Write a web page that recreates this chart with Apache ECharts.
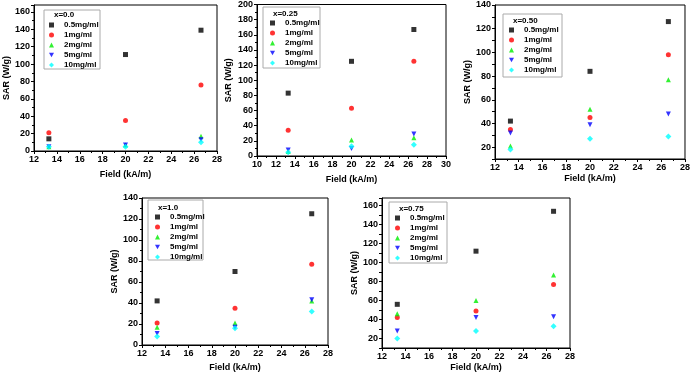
<!DOCTYPE html>
<html>
<head>
<meta charset="utf-8">
<script src="https://cdn.jsdelivr.net/npm/echarts@6/dist/echarts.min.js"></script>
<style>
  html, body { margin: 0; padding: 0; background: #fff; }
  #chart { width: 693px; height: 376px; }
</style>
</head>
<body>
<div id="chart"></div>
<script>
// field strengths (kA/m) used in every panel
const fieldKAm = [13.3, 20, 26.6];
const concNames = ["0.5mg/ml", "1mg/ml", "2mg/ml", "5mg/ml", "10mg/ml"];
const panelTitles = ["x=0.0", "x=0.25", "x=0.50", "x=1.0", "x=0.75"];

// SAR (W/g), one row per concentration, one value per field
const sarX000 = [[14, 111, 139], [21, 35, 76], [5, 7, 17], [5, 7, 13], [5, 5, 10]];
const sarX025 = [[83, 125, 167], [34, 63, 125], [6, 21, 24], [8, 10, 29], [5, 13, 15]];
const sarX050 = [[42, 84, 126], [35, 45, 98], [21, 52, 77], [32, 39, 48], [18, 27, 29]];
const sarX100 = [[42, 70, 125], [21, 35, 77], [17, 21, 42], [11, 17, 43], [8, 16, 32]];
const sarX075 = [[56, 112, 154], [42, 49, 77], [46, 60, 87], [28, 42, 43], [20, 28, 33]];

const colors = ["#000000", "#ff0000", "#00ee00", "#0000ff", "#00ffff"];
const symbols = ["rect", "circle", "triangle", "path://M0,0 L10,0 L5,9 Z", "diamond"];
const sizes = [5, 5, 5, 5, 6];

const font = "Liberation Sans";

// layout of the five panels
const panels = [
  { data: sarX000, grid: { left: 34, top: 5, width: 183, height: 146 }, x: [12, 28], y: [0, 168, 20], xGap: 19, yGap: 18,
    leg: { left: 49, top: 20 }, box: [44, 10, 56, 59], title: [54, 15] },
  { data: sarX025, grid: { left: 257, top: 4, width: 189, height: 152 }, x: [10, 30], y: [0, 200, 20], xGap: 19, yGap: 24,
    leg: { left: 270, top: 18 }, box: [263, 7, 57, 61], title: [273, 14] },
  { data: sarX050, grid: { left: 495, top: 5, width: 193, height: 154 }, x: [12, 28], y: [10, 140, 10], xGap: 15, yGap: 21,
    leg: { left: 509, top: 25 }, box: [503, 14, 59, 63], title: [513, 21] },
  { data: sarX100, grid: { left: 142, top: 198, width: 186, height: 147 }, x: [12, 28], y: [0, 140, 20], xGap: 18, yGap: 22,
    leg: { left: 155, top: 212 }, box: [148, 200, 55, 60], title: [158, 208] },
  { data: sarX075, grid: { left: 382, top: 198, width: 188, height: 150 }, x: [12, 28], y: [10, 168, 10], xGap: 15, yGap: 22,
    leg: { left: 395, top: 213 }, box: [389, 202, 58, 61], title: [399, 209] }
];

const labelStyle = { fontSize: 9, fontWeight: "bold", color: "#000", fontFamily: font };
const nameStyle = { fontSize: 9, fontWeight: "bold", color: "#000", fontFamily: font };
const lineBlack = { lineStyle: { color: "#000", width: 1 } };

const grids = [], xAxes = [], yAxes = [], series = [], legends = [], graphics = [];

panels.forEach((p, i) => {
  grids.push(Object.assign({ show: true, borderColor: "#000", borderWidth: 1, backgroundColor: "transparent" }, p.grid));
  xAxes.push({
    type: "value", gridIndex: i, min: p.x[0], max: p.x[1], interval: 2,
    name: "Field (kA/m)", nameLocation: "middle", nameGap: p.xGap, nameTextStyle: nameStyle,
    axisLine: lineBlack, axisTick: { length: 3, lineStyle: { color: "#000" } },
    minorTick: { show: true, splitNumber: 2, length: 2, lineStyle: { color: "#000" } },
    splitLine: { show: false },
    axisLabel: Object.assign({ margin: 4 }, labelStyle)
  });
  yAxes.push({
    type: "value", gridIndex: i, min: p.y[0], max: p.y[1], interval: p.y[2],
    name: "SAR (W/g)", nameLocation: "middle", nameGap: p.yGap, nameTextStyle: nameStyle,
    axisLine: lineBlack, axisTick: { length: 3, lineStyle: { color: "#000" } },
    minorTick: { show: p.y[2] === 20, splitNumber: 2, length: 2, lineStyle: { color: "#000" } },
    splitLine: { show: false },
    axisLabel: Object.assign({ margin: 4, formatter: v => (v % 20 === 0 ? String(v) : "") }, labelStyle)
  });
  p.data.forEach((vals, k) => {
    series.push({
      type: "scatter", name: concNames[k], xAxisIndex: i, yAxisIndex: i,
      symbol: symbols[k], symbolSize: sizes[k],
      itemStyle: { color: colors[k] },
      data: fieldKAm.map((f, j) => [f, vals[j]])
    });
  });
  legends.push({
    data: concNames, orient: "vertical", left: p.leg.left, top: p.leg.top,
    padding: 0, itemGap: 0, itemWidth: 5, itemHeight: 5,
    textStyle: { fontSize: 8, fontWeight: "bold", color: "#000", fontFamily: font, lineHeight: 10, padding: [0, 0, 0, 5] }
  });
  graphics.push({
    type: "rect", z: 1,
    shape: { x: p.box[0], y: p.box[1], width: p.box[2], height: p.box[3] },
    style: { fill: "#fff", stroke: "#aaa", lineWidth: 1 }
  });
  graphics.push({
    type: "text", z: 5, x: p.title[0], y: p.title[1],
    style: { text: panelTitles[i], font: "bold 8px " + font, fill: "#000", verticalAlign: "middle" }
  });
});

const chart = echarts.init(document.getElementById("chart"));
chart.setOption({
  animation: false,
  grid: grids,
  xAxis: xAxes,
  yAxis: yAxes,
  legend: legends,
  graphic: graphics,
  series: series
});
</script>
</body>
</html>
